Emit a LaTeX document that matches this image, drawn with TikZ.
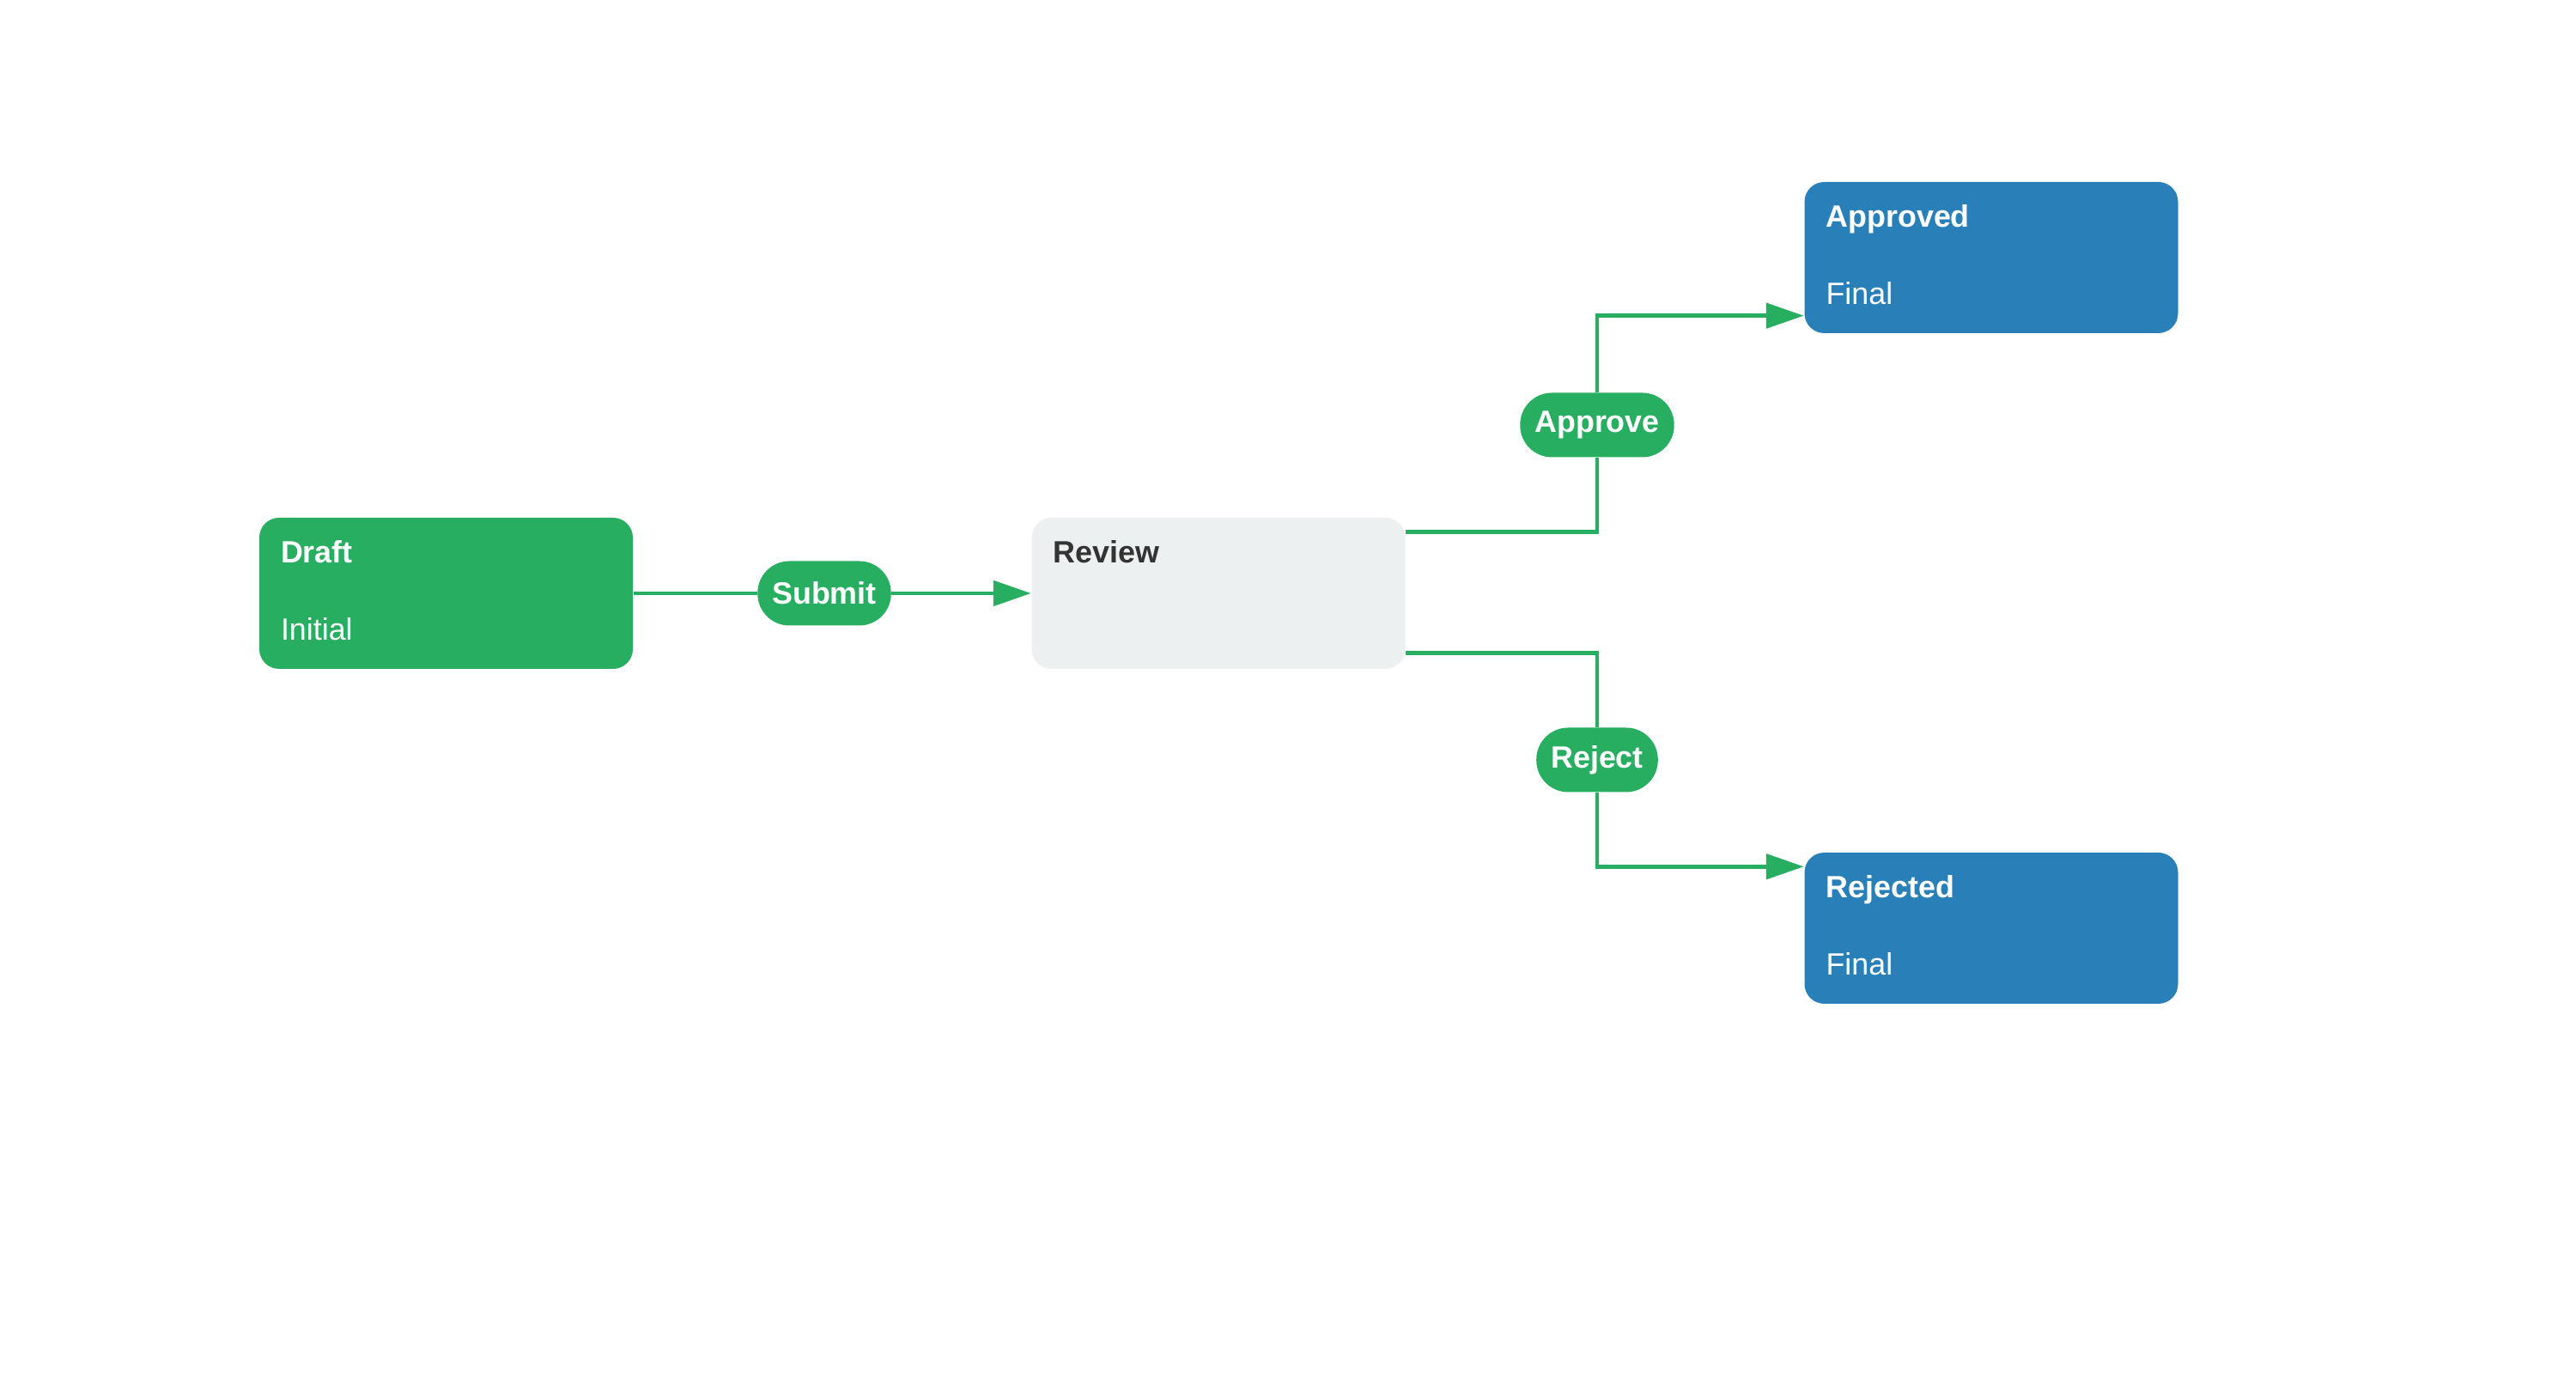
\documentclass[tikz,border=0pt]{standalone}
\usepackage{fontspec}
\setmainfont{Liberation Sans}
\usepackage{tikz}
\usetikzlibrary{arrows.meta, positioning, calc}
\definecolor{flowgreen}{RGB}{39,174,96}
\definecolor{finalblue}{RGB}{41,128,185}
\definecolor{reviewgray}{RGB}{236,240,241}
\definecolor{inktext}{RGB}{51,51,51}

\begin{document}
\begin{tikzpicture}[
    statebox/.style={rectangle,rounded corners=0.23cm,minimum width=4.35cm,minimum height=1.76cm,inner sep=0pt},
    title/.style={anchor=base west,inner sep=0pt,font=\fontsize{10.2}{12}\selectfont\bfseries},
    sub/.style={anchor=base west,inner sep=0pt,font=\fontsize{10.2}{12}\selectfont},
    pill/.style={rectangle,rounded corners=0.37cm,fill=flowgreen,text=white,minimum height=0.75cm,inner xsep=0.17cm,inner ysep=0pt,font=\fontsize{10.2}{12}\selectfont\bfseries},
    flow/.style={draw=flowgreen,line width=1.4pt},
    flowarrow/.style={flow,-{Triangle[length=4.4mm,width=2.9mm]}}
  ]
  \useasboundingbox (0,0) rectangle (30,16.2);
  % states
  \node[statebox,fill=flowgreen] (draft) at (5.195,9.29) {};
  \node[statebox,fill=reviewgray] (review) at (14.19,9.29) {};
  \node[statebox,fill=finalblue] (approved) at (23.19,13.20) {};
  \node[statebox,fill=finalblue] (rejected) at (23.19,5.39) {};
  % state texts
  \node[title,text=white] (draftT) at ($(draft.north west)+(0.25,-0.53)$) {Draft};
  \node[sub,text=white] (draftS) at ($(draft.north west)+(0.25,-1.43)$) {Initial};
  \node[title,text=inktext] (reviewT) at ($(review.north west)+(0.25,-0.53)$) {Review};
  \node[title,text=white] (approvedT) at ($(approved.north west)+(0.25,-0.53)$) {Approved};
  \node[sub,text=white] (approvedS) at ($(approved.north west)+(0.25,-1.43)$) {Final};
  \node[title,text=white] (rejectedT) at ($(rejected.north west)+(0.25,-0.53)$) {Rejected};
  \node[sub,text=white] (rejectedS) at ($(rejected.north west)+(0.25,-1.43)$) {Final};
  % transition labels
  \node[pill] (submit) at (9.60,9.29) {Submit};
  \node[pill] (approve) at (18.60,11.25) {Approve};
  \node[pill] (reject) at (18.60,7.35) {Reject};
  % connector ends
  \coordinate (revUp) at ($(review.north east)+(0,-0.17)$);
  \coordinate (revDown) at ($(review.south east)+(0,0.19)$);
  \coordinate (appIn) at ($(approved.south west)+(0,0.21)$);
  \coordinate (rejIn) at ($(rejected.north west)+(0,-0.17)$);
  % transitions
  \draw[flow] (draft.east) -- (submit.west);
  \draw[flowarrow] (submit.east) -- (review.west);
  \draw[flow] (revUp) -| (approve.south);
  \draw[flowarrow] (approve.north) |- (appIn);
  \draw[flow] (revDown) -| (reject.north);
  \draw[flowarrow] (reject.south) |- (rejIn);
\end{tikzpicture}
\end{document}
